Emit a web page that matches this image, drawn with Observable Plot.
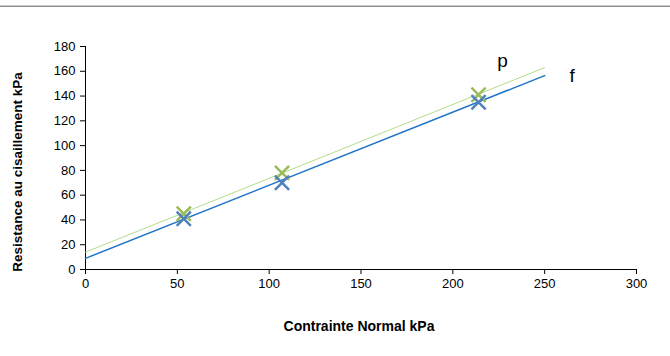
<!DOCTYPE html>
<html>
<head>
<meta charset="utf-8">
<script src="https://cdn.jsdelivr.net/npm/d3@7"></script>
<script src="https://cdn.jsdelivr.net/npm/@observablehq/plot@0.6"></script>
<style>
  html, body { margin: 0; padding: 0; background: #fff; }
  #wrap { position: relative; width: 670px; height: 356px; }
  #topline { position: absolute; left: 0; top: 5px; width: 670px; height: 0;
             border-top: 1px solid #c8c8c8; border-bottom: 1px solid #8c8c8c; }
  svg { font-family: "Liberation Sans", Arial, sans-serif; }
</style>
</head>
<body>
<div id="wrap"><div id="topline"></div></div>
<script>
// Measured points
const normalStress = [53.5, 107, 214];
const shearF = [41, 70, 135];   // series f (blue)
const shearP = [45, 78, 141];   // series p (green)
// Trend lines
const trendX = [0, 250];
const trendF = [9, 156.5];
const trendP = [14, 163];
// Series labels
const labelNames = ["p", "f"];
const labelX = [227, 265];
const labelY = [168, 156];
const xTicks = [0, 50, 100, 150, 200, 250, 300];
const yTicks = [0, 20, 40, 60, 80, 100, 120, 140, 160, 180];
const xTitle = "Contrainte Normal kPa";
const yTitle = "Resistance au cisaillement kPa";

const pts = (xs, ys) => xs.map((x, i) => ({x, y: ys[i]}));
const labels = labelNames.map((t, i) => ({t, x: labelX[i], y: labelY[i]}));

const chart = Plot.plot({
  width: 670,
  height: 356,
  marginLeft: 85,
  marginRight: 34,
  marginTop: 46,
  marginBottom: 87,
  style: {fontFamily: "'Liberation Sans', Arial, sans-serif", fontSize: "13px", background: "transparent"},
  x: {domain: [0, 300]},
  y: {domain: [0, 180]},
  marks: [
    Plot.axisX({ticks: xTicks, tickSize: 5, tickPadding: 4, label: null, fontSize: 13, color: "#000"}),
    Plot.axisY({ticks: yTicks, tickSize: 5, tickPadding: 5, label: null, fontSize: 13, color: "#000"}),
    Plot.ruleX([0], {stroke: "#000", strokeWidth: 1}),
    Plot.ruleY([0], {stroke: "#000", strokeWidth: 1}),
    Plot.line(pts(trendX, trendF), {x: "x", y: "y", stroke: "#1f74c8", strokeWidth: 1.5}),
    Plot.line(pts(trendX, trendP), {x: "x", y: "y", stroke: "#b4dc8c", strokeWidth: 1}),
    Plot.dot(pts(normalStress, shearP), {x: "x", y: "y", symbol: "times", r: 6.5, stroke: "#9bbb59", strokeWidth: 2.5}),
    Plot.dot(pts(normalStress, shearF), {x: "x", y: "y", symbol: "times", r: 6.5, stroke: "#4f81bd", strokeWidth: 2.5}),
    Plot.text(labels, {x: "x", y: "y", text: "t", fontSize: 19, fill: "#000"}),
    Plot.text([xTitle], {frameAnchor: "bottom", dx: -2, dy: 61, fontWeight: "bold", fontSize: 14, fill: "#000"})
  ]
});
document.getElementById("wrap").appendChild(chart);
d3.select(chart).append("text")
  .attr("transform", "translate(17,172) rotate(-90)")
  .attr("text-anchor", "middle")
  .attr("dominant-baseline", "central")
  .attr("font-weight", "bold")
  .attr("font-size", 13.5)
  .attr("fill", "#000")
  .text(yTitle);
</script>
</body>
</html>
